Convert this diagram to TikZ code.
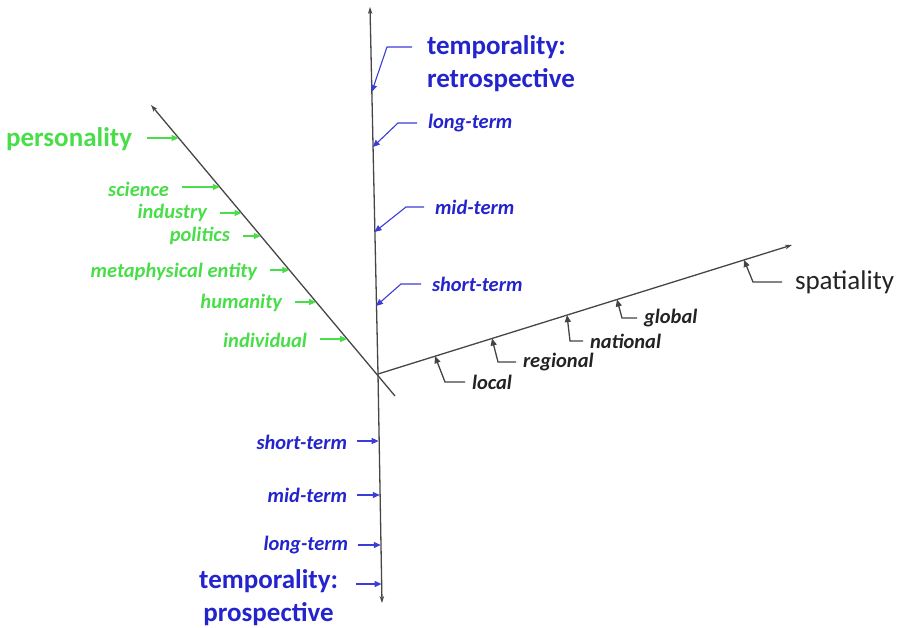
\documentclass[tikz,border=0pt]{standalone}
\usepackage{fontspec}
\setmainfont{Carlito}
\usetikzlibrary{arrows.meta,calc}
\definecolor{axisgray}{RGB}{70,70,70}
\definecolor{tempblue}{RGB}{36,36,205}
\definecolor{leadblue}{RGB}{60,60,215}
\definecolor{persgreen}{RGB}{72,222,72}
\definecolor{spacegray}{RGB}{35,35,35}

\begin{document}
\begin{tikzpicture}[x=1pt,y=-1pt,
  axis/.style={draw=axisgray, line width=1.3pt, -{Stealth[length=7pt,width=4.5pt]}},
  tip/.style={-{Triangle[length=7pt,width=6pt]}},
  bigbold/.style={font=\bfseries\fontsize{27}{33}\selectfont, inner sep=0pt},
  smalltext/.style={font=\bfseries\itshape\fontsize{20.5}{24}\selectfont, inner sep=0pt},
  tlabelR/.style={smalltext, text=tempblue, anchor=west, outer xsep=11pt},
  tlabelL/.style={smalltext, text=tempblue, anchor=east, outer xsep=10pt},
  plabel/.style={smalltext, text=persgreen, anchor=east, outer xsep=13pt},
  slabel/.style={smalltext, text=spacegray, anchor=west, outer xsep=7pt},
  tlead/.style={draw=leadblue, line width=1.1pt, tip},
  plead/.style={draw=persgreen, line width=1.1pt, tip},
  slead/.style={draw=spacegray!85, line width=1.3pt, tip},
]
\useasboundingbox (0,0) rectangle (897,628);

% axes
\coordinate (O) at (378,374);
\coordinate (T-top) at (370,7);
\coordinate (T-bot) at (382,603);
\coordinate (P-end) at (151,105);
\coordinate (P-tail) at (395,396);
\coordinate (S-end) at (792,245);

\draw[axis] (O) -- (T-top);
\draw[axis] (O) -- (T-bot);
\draw[axis] (P-tail) -- (P-end);
\draw[axis] (O) -- (S-end);

% tick points: temporality, retrospective side
\coordinate (tr-retro) at (371.7,92);
\coordinate (tr-long)  at (372.8,147);
\coordinate (tr-mid)   at (374.5,232);
\coordinate (tr-short) at (376.0,306);
% tick points: temporality, prospective side
\coordinate (tp-short) at (378.7,441);
\coordinate (tp-mid)   at (379.8,495);
\coordinate (tp-long)  at (380.8,545);
\coordinate (tp-pros)  at (381.6,584);
% tick points: personality
\coordinate (pk-pers)  at (178.7,138);
\coordinate (pk-sci)   at (219.8,187);
\coordinate (pk-ind)   at (241.6,213);
\coordinate (pk-pol)   at (260.8,236);
\coordinate (pk-meta)  at (289.4,270);
\coordinate (pk-hum)   at (316.2,302);
\coordinate (pk-indiv) at (347.2,339);
% tick points: spatiality
\coordinate (sk-local)    at (435,356.2);
\coordinate (sk-regional) at (492,338.5);
\coordinate (sk-national) at (567,315.1);
\coordinate (sk-global)   at (617,299.5);
\coordinate (sk-spatial)  at (744,259.9);

% retrospective labels
\node[bigbold, text=tempblue, anchor=north west, align=left, outer xsep=15pt]
  (l-retro) at (412,35) {temporality:\\retrospective};
\node[tlabelR] (l-rlong)  at (417,123) {long-term};
\node[tlabelR] (l-rmid)   at (424,207) {mid-term};
\node[tlabelR] (l-rshort) at (421,284) {short-term};

\draw[tlead] ($(l-retro.north west)+(0,12)$) -- ++(-25,0) -- (tr-retro);
\draw[tlead] (l-rlong.west)  -- ++(-19,0) -- (tr-long);
\draw[tlead] (l-rmid.west)   -- ++(-18,0) -- (tr-mid);
\draw[tlead] (l-rshort.west) -- ++(-20,0) -- (tr-short);

% prospective labels
\node[tlabelL] (l-pshort) at (357,442) {short-term};
\node[tlabelL] (l-pmid)   at (357,495) {mid-term};
\node[tlabelL] (l-plong)  at (358,545) {long-term};
\node[bigbold, text=tempblue, anchor=north east, align=center, outer xsep=18pt]
  (l-pros) at (356,569) {temporality:\\prospective};

\draw[tlead] (tp-short -| l-pshort.east) -- (tp-short);
\draw[tlead] (tp-mid -| l-pmid.east)     -- (tp-mid);
\draw[tlead] (tp-long -| l-plong.east)   -- (tp-long);
\draw[tlead] (tp-pros -| l-pros.east)    -- (tp-pros);

% personality labels
\node[bigbold, text=persgreen, anchor=east, outer xsep=15pt] (l-pers) at (147,139) {personality};
\node[plabel] (l-sci)   at (182,189) {science};
\node[plabel] (l-ind)   at (220,213) {industry};
\node[plabel] (l-pol)   at (243,236) {politics};
\node[plabel] (l-meta)  at (270,272) {metaphysical entity};
\node[plabel] (l-hum)   at (295,303) {humanity};
\node[plabel] (l-indiv) at (320,340) {individual};

\draw[plead] (pk-pers -| l-pers.east)   -- (pk-pers);
\draw[plead] (pk-sci -| l-sci.east)     -- (pk-sci);
\draw[plead] (pk-ind -| l-ind.east)     -- (pk-ind);
\draw[plead] (pk-pol -| l-pol.east)     -- (pk-pol);
\draw[plead] (pk-meta -| l-meta.east)   -- (pk-meta);
\draw[plead] (pk-hum -| l-hum.east)     -- (pk-hum);
\draw[plead] (pk-indiv -| l-indiv.east) -- (pk-indiv);

% spatiality labels
\node[slabel] (l-local)    at (465,382) {local};
\node[slabel] (l-regional) at (516,362) {regional};
\node[slabel] (l-national) at (583,341) {national};
\node[slabel] (l-global)   at (637,318) {global};
\node[font=\fontsize{27}{33}\selectfont, inner sep=0pt, text=spacegray, anchor=west, outer xsep=13pt]
  (l-spatial) at (782,282) {spatiality};

\draw[slead] (l-local.west)    -- ++(-20,0) -- (sk-local);
\draw[slead] (l-regional.west) -- ++(-18,0) -- (sk-regional);
\draw[slead] (l-national.west) -- ++(-13,0) -- (sk-national);
\draw[slead] (l-global.west)   -- ++(-15,0) -- (sk-global);
\draw[slead] (l-spatial.west)  -- ++(-29,0) -- (sk-spatial);
\end{tikzpicture}
\end{document}
